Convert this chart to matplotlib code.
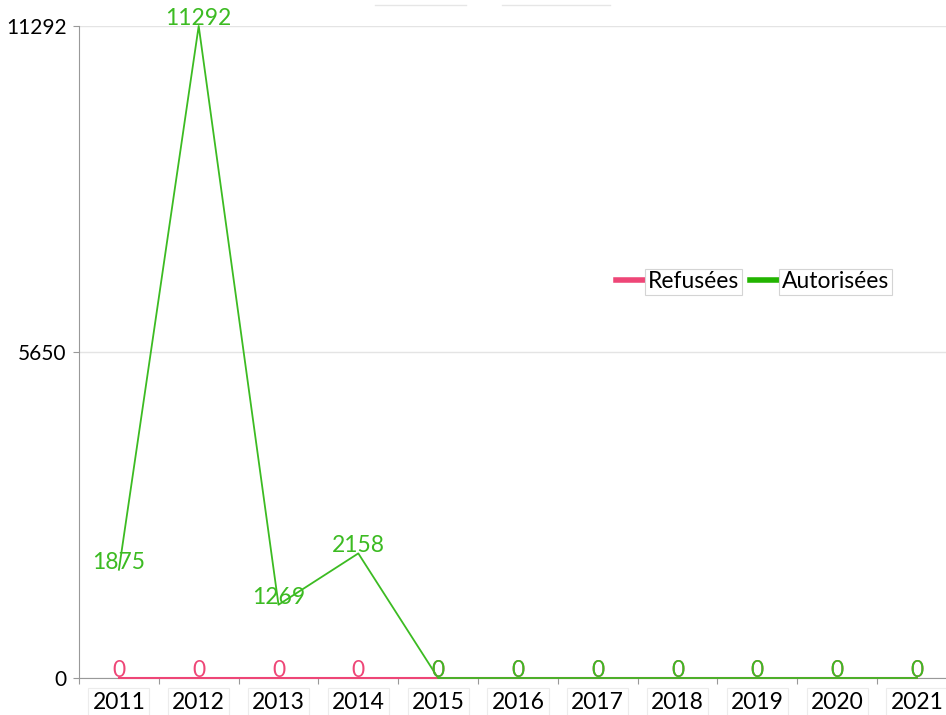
import matplotlib
matplotlib.use("Agg")
import matplotlib.pyplot as plt
from matplotlib.lines import Line2D
import numpy as np

years       = ["2011", "2012", "2013", "2014", "2015", "2016",
               "2017", "2018", "2019", "2020", "2021"]
refusees    = [0, 0, 0, 0, 0, 0, 0, 0, 0, 0, 0]
autorisees  = [1875, 11292, 1269, 2158, 0, 0, 0, 0, 0, 0, 0]
y_ticks     = [0, 5650, 11292]

PINK  = "#ee4677"
GREEN = "#3cbb22"
LEG_GREEN = "#22b400"
FS = 16.5

plt.rcParams["font.family"] = ["Lato", "DejaVu Sans"]

W, H = 946, 715
fig = plt.figure(figsize=(W / 100, H / 100), dpi=100)

# axes run a bit past the right edge, as in the exported chart
left, right = 79, 79 + 79.8 * len(years)
bottom, top = 678, 26
ax = fig.add_axes([left / W, 1 - bottom / H, (right - left) / W, (bottom - top) / H])

x = np.arange(len(years))
ax.plot(x, refusees, color=PINK, lw=1.5, zorder=3, clip_on=False)
ax.plot(x, autorisees, color=GREEN, lw=1.3, zorder=4, clip_on=False)

for xi, v in zip(x, refusees):
    ax.annotate(str(v), (xi, v), xytext=(0, -2), textcoords="offset points",
                ha="center", va="bottom", color=PINK, fontsize=FS, zorder=5)
for xi, v in zip(x, autorisees):
    ax.annotate(str(v), (xi, v), xytext=(0, -2), textcoords="offset points",
                ha="center", va="bottom", color=GREEN, fontsize=FS, zorder=6,
                annotation_clip=False)

ax.set_xlim(-0.5, len(years) - 0.5)
ax.set_ylim(0, max(y_ticks))

# tick marks on category boundaries, labels centred in the bands
ax.set_xticks(np.arange(len(years) + 1) - 0.5)
ax.set_xticklabels([])
ax.set_xticks(x, minor=True)
ax.set_xticklabels(years, minor=True, fontsize=FS)
ax.tick_params(axis="x", which="major", length=4, color="#999999")
ax.tick_params(axis="x", which="minor", length=0, pad=10)
for t in ax.get_xticklabels(minor=True):
    t.set_bbox(dict(fc="white", ec="#ececec", lw=0.8, pad=3))

ax.set_yticks(y_ticks)
ax.set_yticklabels([str(v) for v in y_ticks], fontsize=15)
ax.tick_params(axis="y", length=4, color="#999999", pad=5)

ax.grid(axis="y", color="#e4e4e4", lw=1)
ax.set_axisbelow(True)
for s in ("top", "right"):
    ax.spines[s].set_visible(False)
for s in ("left", "bottom"):
    ax.spines[s].set_color("#999999")
    ax.spines[s].set_zorder(1)

handles = [Line2D([], [], color=PINK, lw=4), Line2D([], [], color=LEG_GREEN, lw=4)]
leg = fig.legend(handles, ["Refusées", "Autorisées"], ncol=2, frameon=False,
                 loc="center left", bbox_to_anchor=(616 / W, 1 - 282 / H),
                 fontsize=FS, handlelength=1.25, handletextpad=0.15,
                 columnspacing=0.45, borderpad=0, borderaxespad=0)
for t in leg.get_texts():
    t.set_bbox(dict(fc="white", ec="#d4d4d4", lw=0.8, pad=2))

# faint header strokes
fig.add_artist(Line2D([375 / W, 466 / W], [1 - 5 / H] * 2, color="#e6e6e6", lw=1))
fig.add_artist(Line2D([502 / W, 610 / W], [1 - 5 / H] * 2, color="#e6e6e6", lw=1))

fig.savefig("out.png", dpi=100)
